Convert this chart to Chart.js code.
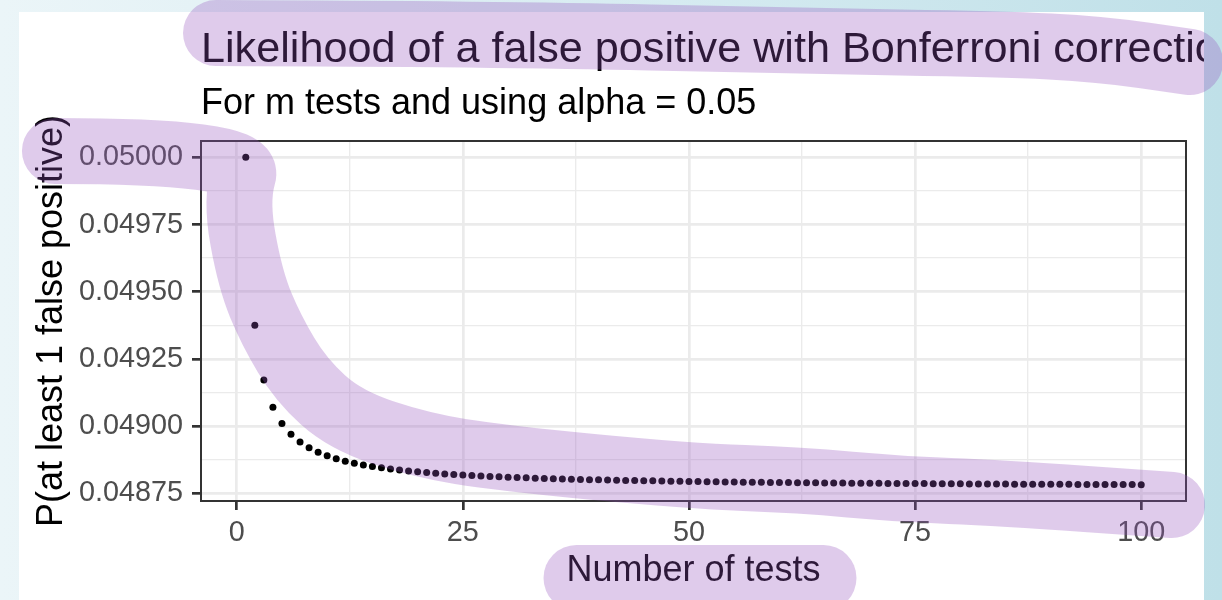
<!DOCTYPE html>
<html>
<head>
<meta charset="utf-8">
<title>Bonferroni false positive likelihood</title>
<script src="https://cdn.jsdelivr.net/npm/chart.js@4.4.1/dist/chart.umd.min.js"></script>
<style>
  html, body { margin: 0; padding: 0; }
  body {
    width: 1222px; height: 600px; overflow: hidden; position: relative;
    background: linear-gradient(to right, #ebf5f8 0%, #d6ebf1 55%, #bfe0e8 100%);
  }
  #sheet { position: absolute; left: 19px; top: 12px; width: 1185px; height: 588px; background: #ffffff; }
  #chart { position: absolute; left: 0; top: 0; }
</style>
</head>
<body>
<div id="sheet"></div>
<canvas id="chart" width="1222" height="600"></canvas>
<script>
// Number of tests m
const tests = [
  1, 2, 3, 4, 5, 6, 7, 8, 9, 10,
  11, 12, 13, 14, 15, 16, 17, 18, 19, 20,
  21, 22, 23, 24, 25, 26, 27, 28, 29, 30,
  31, 32, 33, 34, 35, 36, 37, 38, 39, 40,
  41, 42, 43, 44, 45, 46, 47, 48, 49, 50,
  51, 52, 53, 54, 55, 56, 57, 58, 59, 60,
  61, 62, 63, 64, 65, 66, 67, 68, 69, 70,
  71, 72, 73, 74, 75, 76, 77, 78, 79, 80,
  81, 82, 83, 84, 85, 86, 87, 88, 89, 90,
  91, 92, 93, 94, 95, 96, 97, 98, 99, 100
];

// P(at least 1 false positive) for each m
const probAtLeastOne = [
  0.0500000, 0.0493750, 0.0491713, 0.0490703, 0.0490100, 0.0489698, 0.0489412, 0.0489198, 0.0489032, 0.0488899,
  0.0488790, 0.0488699, 0.0488623, 0.0488557, 0.0488500, 0.0488450, 0.0488406, 0.0488368, 0.0488333, 0.0488301,
  0.0488273, 0.0488247, 0.0488224, 0.0488202, 0.0488182, 0.0488164, 0.0488147, 0.0488131, 0.0488117, 0.0488103,
  0.0488090, 0.0488078, 0.0488067, 0.0488056, 0.0488046, 0.0488037, 0.0488028, 0.0488019, 0.0488011, 0.0488004,
  0.0487996, 0.0487989, 0.0487983, 0.0487976, 0.0487970, 0.0487965, 0.0487959, 0.0487954, 0.0487949, 0.0487944,
  0.0487939, 0.0487935, 0.0487930, 0.0487926, 0.0487922, 0.0487918, 0.0487915, 0.0487911, 0.0487908, 0.0487904,
  0.0487901, 0.0487898, 0.0487895, 0.0487892, 0.0487889, 0.0487886, 0.0487884, 0.0487881, 0.0487878, 0.0487876,
  0.0487874, 0.0487871, 0.0487869, 0.0487867, 0.0487865, 0.0487863, 0.0487861, 0.0487859, 0.0487857, 0.0487855,
  0.0487853, 0.0487851, 0.0487849, 0.0487848, 0.0487846, 0.0487844, 0.0487843, 0.0487841, 0.0487840, 0.0487838,
  0.0487837, 0.0487835, 0.0487834, 0.0487832, 0.0487831, 0.0487830, 0.0487829, 0.0487827, 0.0487826, 0.0487825
];

// Axis breaks
const xTickValues = [0, 25, 50, 75, 100];
const yTickValues = [0.04875, 0.04900, 0.04925, 0.04950, 0.04975, 0.05000];

// Text
const titleText = 'Likelihood of a false positive with Bonferroni correction';
const subtitleText = 'For m tests and using alpha = 0.05';
const xTitleText = 'Number of tests';
const yTitleText = 'P(at least 1 false positive)';

// ---- styling ----
const FONT = "'Liberation Sans', Arial, Helvetica, sans-serif";
const BASE = 36;
const SHEET_RIGHT = 1204;              // right edge of the white sheet
const GRID = '#ebebeb';
const INK = '#333333';

// Highlighter pen strokes drawn over the finished chart
const pen = { color: 'rgba(150, 83, 190, 0.30)', width: 66 };
// stroke along the curve, in data units (tests, probability)
const curveStroke = [
  [-20.1, 0.0500237], [1.5, 0.0500237], [-0.1, 0.0498414], [1.5, 0.0495438],
  [3.8, 0.0493578], [7.1, 0.0491718], [12.0, 0.0490229], [20.3, 0.0489299],
  [29.1, 0.0488816], [49.9, 0.0488146], [62.3, 0.0487997], [73.3, 0.0487662],
  [84.4, 0.0487513], [103.4, 0.0487067]
];
// stroke under the title, offsets from the title's start point on its baseline
const titleStroke = [[15, -29], [299, -28], [599, -21], [799, -18], [899, -13], [989, 0]];
// stroke under the x axis title, offsets from the title's centre
const xTitleStroke = [[-117, 9], [130, 9]];

// ggplot-style 5% expansion of the data range
function expand(values, mult) {
  const lo = Math.min(...values), hi = Math.max(...values);
  const pad = (hi - lo) * mult;
  return [lo - pad, hi + pad];
}
const [xMin, xMax] = expand(tests, 0.05);
const [yMin, yMax] = expand(probAtLeastOne, 0.05);

// major breaks plus minor breaks halfway between them
function withMinor(values) {
  const out = [];
  values.forEach((v, i) => {
    out.push({ value: v, isMajor: true });
    if (i < values.length - 1) out.push({ value: (v + values[i + 1]) / 2, isMajor: false });
  });
  return out;
}

const isMajor = c => !!(c.tick && c.tick.isMajor);

function gridOptions() {
  return {
    color: GRID,
    lineWidth: c => isMajor(c) ? 2.7 : 1.35,
    drawTicks: true,
    tickLength: 9,
    tickWidth: 2.7,
    tickColor: c => isMajor(c) ? INK : 'rgba(0,0,0,0)'
  };
}

function smoothStroke(ctx, pts) {
  ctx.beginPath();
  ctx.moveTo(pts[0][0], pts[0][1]);
  if (pts.length === 2) {
    ctx.lineTo(pts[1][0], pts[1][1]);
  } else {
    for (let i = 1; i < pts.length - 1; i++) {
      const mx = (pts[i][0] + pts[i + 1][0]) / 2;
      const my = (pts[i][1] + pts[i + 1][1]) / 2;
      ctx.quadraticCurveTo(pts[i][0], pts[i][1], mx, my);
    }
    const last = pts[pts.length - 1];
    ctx.lineTo(last[0], last[1]);
  }
  ctx.stroke();
}

const decorPlugin = {
  id: 'decor',
  afterDraw(chart) {
    const { ctx, chartArea: a, scales } = chart;

    // panel border
    ctx.save();
    ctx.strokeStyle = INK;
    ctx.lineWidth = 2;
    ctx.strokeRect(a.left, a.top, a.right - a.left, a.bottom - a.top);
    ctx.restore();

    // title and subtitle, cut off at the sheet edge
    const titleX = a.left, titleY = a.top - 79;
    ctx.save();
    ctx.beginPath();
    ctx.rect(0, 0, SHEET_RIGHT, chart.height);
    ctx.clip();
    ctx.fillStyle = '#000';
    ctx.textAlign = 'left';
    ctx.textBaseline = 'alphabetic';
    ctx.font = `${BASE * 1.2}px ${FONT}`;
    ctx.fillText(titleText, titleX, titleY);
    ctx.font = `${BASE}px ${FONT}`;
    ctx.fillText(subtitleText, a.left, a.top - 27);
    ctx.restore();

    // y axis title, rotated
    ctx.save();
    ctx.translate(62, (a.top + a.bottom) / 2);
    ctx.rotate(-Math.PI / 2);
    ctx.fillStyle = '#000';
    ctx.textAlign = 'center';
    ctx.textBaseline = 'alphabetic';
    ctx.font = `${BASE}px ${FONT}`;
    ctx.fillText(yTitleText, 0, 0);
    ctx.restore();

    // highlighter pen
    ctx.save();
    ctx.strokeStyle = pen.color;
    ctx.lineWidth = pen.width;
    ctx.lineCap = 'round';
    ctx.lineJoin = 'round';
    smoothStroke(ctx, curveStroke.map(([x, y]) => [scales.x.getPixelForValue(x), scales.y.getPixelForValue(y)]));
    smoothStroke(ctx, titleStroke.map(([dx, dy]) => [titleX + dx, titleY + dy]));
    const xtCx = (a.left + a.right) / 2, xtCy = 569;
    smoothStroke(ctx, xTitleStroke.map(([dx, dy]) => [xtCx + dx, xtCy + dy]));
    ctx.restore();
  }
};

new Chart(document.getElementById('chart'), {
  type: 'scatter',
  data: {
    datasets: [{
      data: tests.map((m, i) => ({ x: m, y: probAtLeastOne[i] })),
      pointRadius: 3.5,
      pointHoverRadius: 3.5,
      pointBackgroundColor: '#000000',
      pointBorderWidth: 0,
      showLine: false
    }]
  },
  options: {
    responsive: false,
    devicePixelRatio: 1,
    animation: false,
    events: [],
    layout: { padding: { top: 141, right: 36, bottom: 0, left: 0 } },
    plugins: {
      legend: { display: false },
      tooltip: { enabled: false },
      title: { display: false }
    },
    scales: {
      x: {
        type: 'linear',
        min: xMin,
        max: xMax,
        afterBuildTicks: s => { s.ticks = withMinor(xTickValues); },
        afterFit: s => { s.height = 99; },
        ticks: {
          autoSkip: false,
          maxRotation: 0,
          padding: 6,
          color: '#4d4d4d',
          font: { family: FONT, size: BASE * 0.8 },
          callback: (v, i, t) => t[i].isMajor ? String(v) : ''
        },
        grid: gridOptions(),
        border: { display: false },
        title: {
          display: true,
          text: xTitleText,
          color: '#000',
          font: { family: FONT, size: BASE },
          padding: { top: 0, bottom: 7 }
        }
      },
      y: {
        type: 'linear',
        min: yMin,
        max: yMax,
        afterBuildTicks: s => { s.ticks = withMinor(yTickValues); },
        afterFit: s => { s.width = 201; },
        ticks: {
          autoSkip: false,
          padding: 9,
          color: '#4d4d4d',
          font: { family: FONT, size: BASE * 0.8 },
          callback: (v, i, t) => t[i].isMajor ? v.toFixed(5) : ''
        },
        grid: gridOptions(),
        border: { display: false },
        title: { display: false }
      }
    }
  },
  plugins: [decorPlugin]
});
</script>
</body>
</html>
